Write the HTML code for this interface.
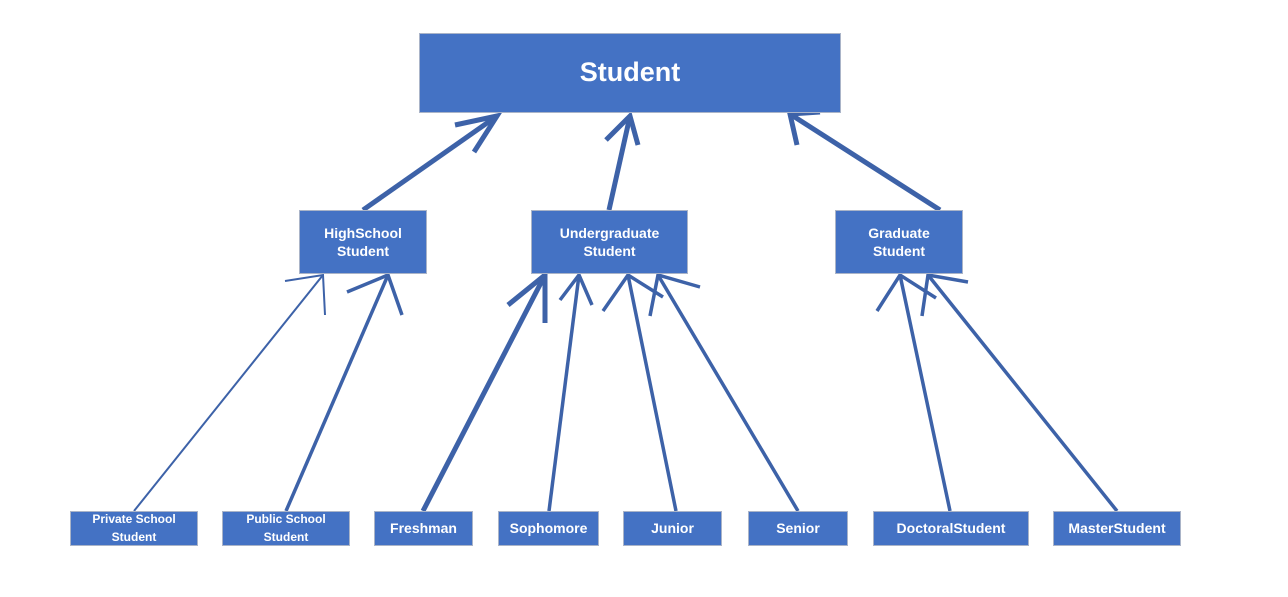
<!DOCTYPE html>
<html><head><style>
body{margin:0;width:1288px;height:597px;background:#fff;position:relative;overflow:hidden;font-family:"Liberation Sans",sans-serif}
.b{position:absolute;background:#4472c4;border:1px solid #aab4c8;box-sizing:border-box;color:#fff;font-weight:bold;display:flex;align-items:center;justify-content:center;text-align:center;line-height:1.3}
svg{position:absolute;left:0;top:0}
</style></head><body>
<svg width="1288" height="597" fill="none" stroke="#3d62a8" stroke-linecap="butt">
<g stroke-width="5">
<line x1="363" y1="210" x2="497" y2="116"/><polyline points="455,125 497,116 474,152"/>
<line x1="609" y1="210" x2="630" y2="116"/><polyline points="606,140 630,116 638,145"/>
<line x1="940" y1="210" x2="790" y2="114"/><polyline points="797,145 790,114 820,112"/>
<line x1="423" y1="511" x2="545" y2="275"/><polyline points="508,305 545,275 545,323"/>
</g>
<g stroke-width="2">
<line x1="134" y1="511" x2="323" y2="275"/><polyline points="285,281 323,275 325,315"/>
</g>
<g stroke-width="3.5">
<line x1="286" y1="511" x2="388" y2="275"/><polyline points="347,292 388,275 402,315"/>
<line x1="549" y1="511" x2="579" y2="275"/><polyline points="560,300 579,275 592,305"/>
<line x1="676" y1="511" x2="628" y2="275"/><polyline points="603,311 628,275 663,297"/>
<line x1="798" y1="511" x2="658" y2="275"/><polyline points="650,316 658,275 700,287"/>
<line x1="950" y1="511" x2="900" y2="275"/><polyline points="877,311 900,275 936,298"/>
<line x1="1117" y1="511" x2="928" y2="275"/><polyline points="922,316 928,275 968,282"/>
</g>
</svg>
<div class="b" style="left:419px;top:33px;width:422px;height:80px;font-size:27px">Student</div>
<div class="b" style="left:299px;top:210px;width:128px;height:64px;font-size:14px">HighSchool<br>Student</div>
<div class="b" style="left:531px;top:210px;width:157px;height:64px;font-size:14px">Undergraduate<br>Student</div>
<div class="b" style="left:835px;top:210px;width:128px;height:64px;font-size:14px">Graduate<br>Student</div>
<div class="b" style="left:70px;top:511px;width:128px;height:35px;font-size:12px;line-height:1.45">Private School<br>Student</div>
<div class="b" style="left:222px;top:511px;width:128px;height:35px;font-size:12px;line-height:1.45">Public School<br>Student</div>
<div class="b" style="left:374px;top:511px;width:99px;height:35px;font-size:14px">Freshman</div>
<div class="b" style="left:498px;top:511px;width:101px;height:35px;font-size:14px">Sophomore</div>
<div class="b" style="left:623px;top:511px;width:99px;height:35px;font-size:14px">Junior</div>
<div class="b" style="left:748px;top:511px;width:100px;height:35px;font-size:14px">Senior</div>
<div class="b" style="left:873px;top:511px;width:156px;height:35px;font-size:14px">DoctoralStudent</div>
<div class="b" style="left:1053px;top:511px;width:128px;height:35px;font-size:14px">MasterStudent</div>
</body></html>
